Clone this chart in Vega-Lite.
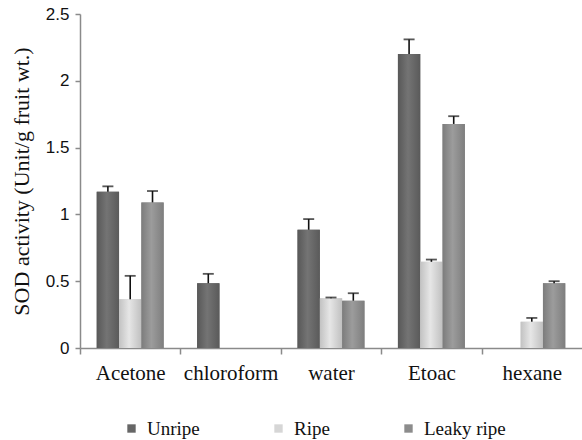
{
  "$schema": "https://vega.github.io/schema/vega-lite/v6.json",
  "autosize": {"type": "none"},
  "width": 502,
  "height": 334,
  "padding": {"left": 80, "top": 14, "right": 0, "bottom": 92},
  "background": "white",
  "config": {"view": {"stroke": null}},
  "data": {
    "values": [
      {"solvent": "Acetone", "series": "Unripe", "value": 1.17, "err": 1.21},
      {"solvent": "Acetone", "series": "Ripe", "value": 0.365, "err": 0.54},
      {"solvent": "Acetone", "series": "Leaky ripe", "value": 1.09, "err": 1.175},
      {"solvent": "chloroform", "series": "Unripe", "value": 0.485, "err": 0.555},
      {"solvent": "water", "series": "Unripe", "value": 0.885, "err": 0.965},
      {"solvent": "water", "series": "Ripe", "value": 0.372, "err": 0.378},
      {"solvent": "water", "series": "Leaky ripe", "value": 0.354, "err": 0.41},
      {"solvent": "Etoac", "series": "Unripe", "value": 2.2, "err": 2.31},
      {"solvent": "Etoac", "series": "Ripe", "value": 0.645, "err": 0.662},
      {"solvent": "Etoac", "series": "Leaky ripe", "value": 1.677, "err": 1.735},
      {"solvent": "hexane", "series": "Ripe", "value": 0.197, "err": 0.225},
      {"solvent": "hexane", "series": "Leaky ripe", "value": 0.484, "err": 0.5}
    ]
  },
  "encoding": {
    "x": {
      "field": "solvent",
      "type": "nominal",
      "sort": ["Acetone", "chloroform", "water", "Etoac", "hexane"],
      "scale": {"paddingInner": 0, "paddingOuter": 0},
      "axis": {
        "title": null,
        "labelAngle": 0,
        "labelFont": "Times New Roman, Liberation Serif, serif",
        "labelFontSize": 21,
        "labelColor": "#111",
        "labelPadding": 8,
        "domainColor": "#8a8a8a",
        "domainWidth": 1.5,
        "tickColor": "#8a8a8a",
        "tickWidth": 1.5,
        "tickSize": 6,
        "tickOffset": -50.2,
        "labelOffset": 50.2
      }
    },
    "xOffset": {
      "field": "series",
      "type": "nominal",
      "sort": ["Unripe", "Ripe", "Leaky ripe"],
      "scale": {"domain": ["Unripe", "Ripe", "Leaky ripe"], "paddingInner": 0, "paddingOuter": 0.75}
    },
    "y": {
      "field": "value",
      "type": "quantitative",
      "scale": {"domain": [0, 2.5], "nice": false},
      "axis": {
        "title": "SOD  activity (Unit/g fruit wt.)",
        "titleFont": "Times New Roman, Liberation Serif, serif",
        "titleFontSize": 22,
        "titleFontWeight": "normal",
        "titleColor": "#111",
        "titleX": -47,
        "titleY": 167,
        "values": [0, 0.5, 1, 1.5, 2, 2.5],
        "format": "~g",
        "labelFont": "Liberation Sans, Arial, sans-serif",
        "labelFontSize": 17,
        "labelColor": "#111",
        "labelPadding": 6,
        "grid": false,
        "domainColor": "#8a8a8a",
        "domainWidth": 1.5,
        "tickColor": "#8a8a8a",
        "tickWidth": 1.5,
        "tickSize": 5
      }
    }
  },
  "layer": [
    {
      "mark": {"type": "bar"},
      "encoding": {
        "color": {
          "field": "series",
          "type": "nominal",
          "sort": ["Unripe", "Ripe", "Leaky ripe"],
          "scale": {
            "domain": ["Unripe", "Ripe", "Leaky ripe"],
            "range": ["#666666", "#d6d6d6", "#8c8c8c"]
          },
          "legend": {
            "title": null,
            "orient": "none",
            "direction": "horizontal",
            "gridAlign": "none",
            "legendX": 42,
            "legendY": 405,
            "symbolType": "square",
            "symbolSize": 70,
            "symbolStrokeWidth": 0,
            "labelFont": "Times New Roman, Liberation Serif, serif",
            "labelFontSize": 19,
            "labelColor": "#111",
            "labelOffset": 6,
            "columnPadding": 69
          }
        }
      }
    },
    {
      "transform": [{"filter": "datum.series === 'Unripe'"}],
      "mark": {"type": "bar", "color": {"gradient": "linear", "x1": 0, "y1": 0, "x2": 1, "y2": 0, "stops": [{"offset": 0, "color": "#585858"}, {"offset": 0.45, "color": "#747474"}, {"offset": 1, "color": "#5a5a5a"}]}}
    },
    {
      "transform": [{"filter": "datum.series === 'Ripe'"}],
      "mark": {"type": "bar", "color": {"gradient": "linear", "x1": 0, "y1": 0, "x2": 1, "y2": 0, "stops": [{"offset": 0, "color": "#c2c2c2"}, {"offset": 0.45, "color": "#e6e6e6"}, {"offset": 1, "color": "#c0c0c0"}]}}
    },
    {
      "transform": [{"filter": "datum.series === 'Leaky ripe'"}],
      "mark": {"type": "bar", "color": {"gradient": "linear", "x1": 0, "y1": 0, "x2": 1, "y2": 0, "stops": [{"offset": 0, "color": "#7c7c7c"}, {"offset": 0.45, "color": "#9c9c9c"}, {"offset": 1, "color": "#7e7e7e"}]}}
    },
    {
      "mark": {"type": "rule", "color": "#111", "strokeWidth": 1.6},
      "encoding": {
        "y2": {"field": "err"}
      }
    },
    {
      "mark": {"type": "tick", "color": "#111", "thickness": 1.8, "size": 11, "orient": "horizontal"},
      "encoding": {
        "y": {"field": "err", "type": "quantitative"}
      }
    }
  ]
}
